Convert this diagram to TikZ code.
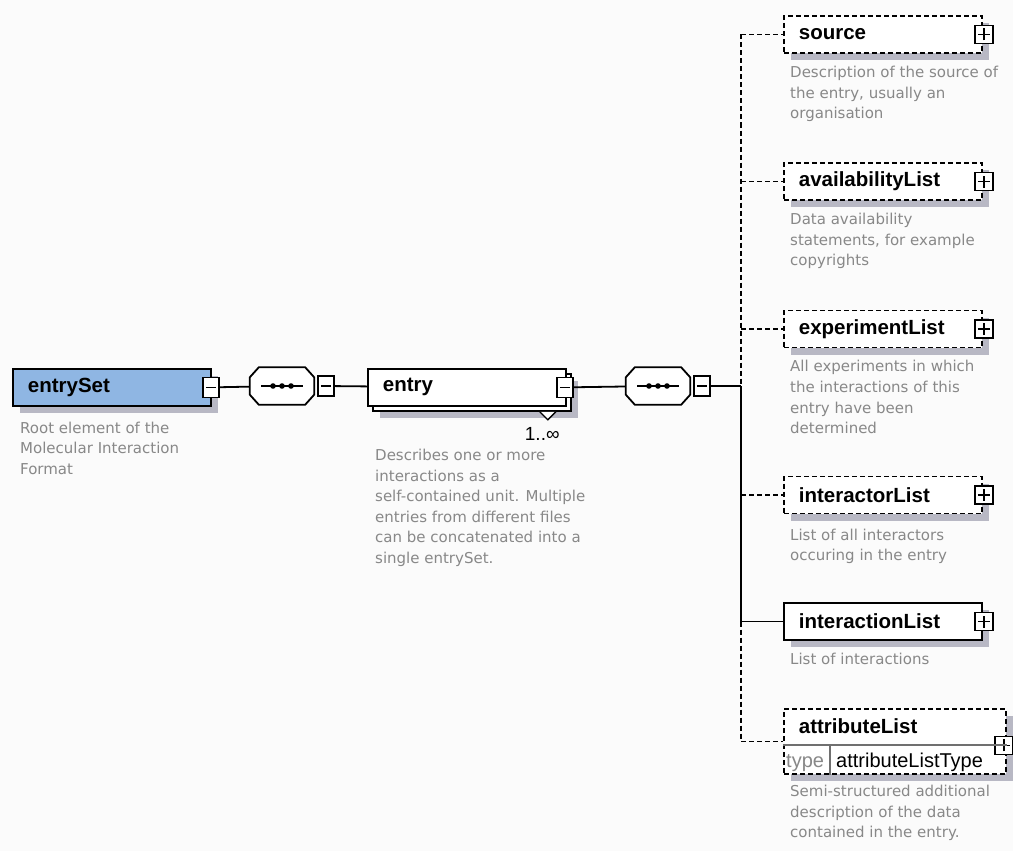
\documentclass[tikz,border=0pt]{standalone}
\usepackage{fontspec}
\usepackage{xcolor}
\usepackage{tikz}
\usetikzlibrary{positioning}
\usetikzlibrary{shadows}
\setmainfont{DejaVu Sans}
\newfontfamily\labelfont{Liberation Sans}
\newfontfamily\descfont{DejaVu Sans}
\definecolor{RootColor}{HTML}{8FB6E3}
\definecolor{ShadowColor}{HTML}{B8B8C4}
\definecolor{DescColor}{HTML}{888888}
\definecolor{SepColor}{HTML}{707070}
\definecolor{BgColor}{HTML}{FBFBFB}

\begin{document}
\begin{tikzpicture}[
      x=1pt, y=-1pt,
      box/.style = {draw, line width=1.8pt, fill=white, minimum height=37pt,
        inner xsep=15pt, inner ysep=0pt, text width=168pt, align=left,
        font=\labelfont\bfseries\fontsize{20.5}{24}\selectfont},
      elem/.style = {box, drop shadow={shadow xshift=7pt, shadow yshift=-7pt, fill=ShadowColor, opacity=1}},
      optelem/.style = {elem, dash pattern=on 5pt off 3pt},
      multielem/.style = {box,
        drop shadow={shadow xshift=12pt, shadow yshift=-12pt, fill=ShadowColor, opacity=1},
        copy shadow={shadow xshift=5pt, shadow yshift=-5pt, draw=black, fill=white, line width=1.8pt}},
      seq/.style = {minimum width=64pt, minimum height=37pt, inner sep=0pt},
      minusbtn/.style = {draw, line width=1.5pt, fill=white, minimum width=16pt, minimum height=20pt, inner sep=0pt,
        path picture={\draw[line width=1.5pt] ([xshift=3pt]path picture bounding box.west) -- ([xshift=-3pt]path picture bounding box.east);}},
      plusbtn/.style = {minusbtn, minimum width=18pt, minimum height=18pt,
        path picture={\draw[line width=1.5pt] ([xshift=3pt]path picture bounding box.west) -- ([xshift=-3pt]path picture bounding box.east)
          ([yshift=3pt]path picture bounding box.south) -- ([yshift=-3pt]path picture bounding box.north);}},
      reqlink/.style = {line width=1.8pt},
      optlink/.style = {line width=1.8pt, dash pattern=on 5pt off 3pt},
      sepline/.style = {line width=1.2pt, SepColor},
      desc/.style = {inner sep=0pt, align=left, text=DescColor, font=\descfont\fontsize{15}{20.6}\selectfont},
      occurs/.style = {inner sep=0pt, font=\labelfont\fontsize{19}{20}\selectfont},
      typetext/.style = {inner sep=0pt, anchor=base west, font=\labelfont\fontsize{20}{24}\selectfont},
  ]
  \fill[BgColor] (0,0) rectangle (1013,851);
  \useasboundingbox (0,0) rectangle (1013,851);
  % ┌──────────────────┐
  % │ entrySet / entry │
  % └──────────────────┘
  \node[elem, fill=RootColor, anchor=north west] (entryset) at (12,368) {entrySet};
  \node[minusbtn] (entrysetmin) at ([xshift=-1pt]entryset.east) {};
  \node[desc, below right=15pt and 8pt of entryset.south west] (entrysetdesc) {Root element of the\\Molecular Interaction\\Format};

  \node[seq] (seqa) at (282,386) {};
  \node[multielem, anchor=north west] (entry) at (367,368) {entry};
  \node[seq] (seqb) at (658,386) {};

  % sequence compositors (octagons)
  \foreach \s in {seqa, seqb} {
    \fill[ShadowColor, xshift=6pt, yshift=-6pt]
      ([xshift=9pt]\s.north west) -- ([xshift=-9pt]\s.north east) -- ([yshift=-10pt]\s.north east) -- ([yshift=10pt]\s.south east)
      -- ([xshift=-9pt]\s.south east) -- ([xshift=9pt]\s.south west) -- ([yshift=10pt]\s.south west) -- ([yshift=-10pt]\s.north west) -- cycle;
    \filldraw[fill=white, line width=1.8pt]
      ([xshift=9pt]\s.north west) -- ([xshift=-9pt]\s.north east) -- ([yshift=-10pt]\s.north east) -- ([yshift=10pt]\s.south east)
      -- ([xshift=-9pt]\s.south east) -- ([xshift=9pt]\s.south west) -- ([yshift=10pt]\s.south west) -- ([yshift=-10pt]\s.north west) -- cycle;
    \draw[line width=1.8pt] ([xshift=-21pt]\s.center) -- ([xshift=21pt]\s.center);
    \foreach \d in {-9,0,9} \fill ([xshift=\d pt]\s.center) circle (2.8pt);
  }
  \node[minusbtn, right=3pt of seqa] (seqamin) {};
  \node[minusbtn, right=3pt of seqb] (seqbmin) {};

  \node[minusbtn] (entrymin) at ([xshift=-2pt]entry.east) {};
  \filldraw[fill=white, line width=1.3pt] ([xshift=-27pt,yshift=-5pt]entry.south east) -- ++(8,8) -- ++(8,-8);
  \node[occurs, below left=20pt and 7pt of entry.south east] (entryocc) {1..∞};
  \node[desc, below right=42pt and 8pt of entry.south west] (entrydesc) {Describes one or more\\interactions as a\\self-contained unit. Multiple\\entries from different files\\can be concatenated into a\\single entrySet.};

  \coordinate (trunk) at (741,386);
  % ┌──────────┐
  % │ children │
  % └──────────┘
  \node[optelem, anchor=west] (src) at (783,34.5) {source};
  \node[optelem, anchor=west] (avail) at (783,181.5) {availabilityList};
  \node[optelem, anchor=west] (exper) at (783,329) {experimentList};
  \node[optelem, anchor=west] (iactor) at (783,495) {interactorList};
  \node[elem, anchor=west] (ial) at (783,621.5) {interactionList};
  \node[optelem, anchor=north west, text width=192pt, text height=25pt, text depth=40pt] (attr) at (783,708) {attributeList};
  \foreach \n in {src, avail, exper, iactor, ial}
    \node[plusbtn] (\n plus) at ([xshift=1pt]\n.east) {};
  \node[plusbtn] (attrplus) at ([xshift=-3pt,yshift=-4pt]attr.east) {};

  \draw[sepline] ([yshift=-37pt]attr.north west) -- ([yshift=-37pt]attr.north east);
  \draw[sepline] ([xshift=47pt]attr.south west) -- ([xshift=47pt,yshift=-37pt]attr.north west);
  \node[typetext, text=DescColor] (attrtypekey) at ([xshift=3pt,yshift=7pt]attr.south west) {type};
  \node[typetext] (attrtypeval) at ([xshift=53pt,yshift=7pt]attr.south west) {attributeListType};

  \node[desc, below right=12pt and 7pt of src.south west] (srcdesc) {Description of the source of\\the entry, usually an\\organisation};
  \node[desc, below right=12pt and 7pt of avail.south west] (availdesc) {Data availability\\statements, for example\\copyrights};
  \node[desc, below right=12pt and 7pt of exper.south west] (experdesc) {All experiments in which\\the interactions of this\\entry have been\\determined};
  \node[desc, below right=14pt and 7pt of iactor.south west] (iactordesc) {List of all interactors\\occuring in the entry};
  \node[desc, below right=12pt and 7pt of ial.south west] (ialdesc) {List of interactions};
  \node[desc, below right=10pt and 7pt of attr.south west] (attrdesc) {Semi-structured additional\\description of the data\\contained in the entry.};
  % ┌─────────────────┐
  % │ Verbindungen    │
  % └─────────────────┘
  \draw[reqlink] (entrysetmin) -- (seqa);
  \draw[reqlink] (seqamin) -- (entry);
  \draw[reqlink] (entrymin) -- (seqb);
  \draw[reqlink] (seqbmin) -- (trunk);
  \draw[optlink] (trunk |- src.west) -- (trunk);
  \draw[reqlink] (trunk) -- (trunk |- ial.west);
  \draw[optlink] (trunk |- ial.west) -- (trunk |- attr.west);
  \foreach \n in {src, avail, exper, iactor, attr}
    \draw[optlink] (trunk |- \n.west) -- (\n.west);
  \draw[reqlink] (trunk |- ial.west) -- (ial.west);
\end{tikzpicture}
\end{document}
